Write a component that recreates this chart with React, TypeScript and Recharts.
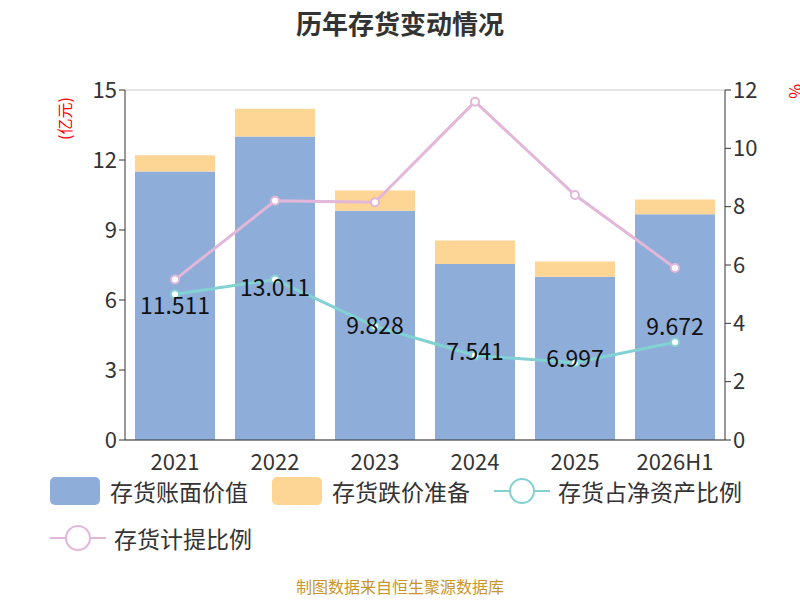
import React from 'react'
import { ComposedChart, Bar, Line, XAxis, YAxis, CartesianGrid, LabelList } from 'recharts'

const years = ['2021', '2022', '2023', '2024', '2025', '2026H1']
const bookValue = [11.511, 13.011, 9.828, 7.541, 6.997, 9.672]
const provision = [0.69, 1.19, 0.87, 1.01, 0.65, 0.63]
const netAssetRatio = [5.0, 5.5, 3.9, 2.9, 2.65, 3.35]
const provisionRatio = [5.5, 8.2, 8.15, 11.6, 8.4, 5.9]
const leftTicks = [0, 3, 6, 9, 12, 15]
const rightTicks = [0, 2, 4, 6, 8, 10, 12]

const data = years.map((year, i) => ({
  year,
  book: bookValue[i],
  prov: provision[i],
  netRatio: netAssetRatio[i],
  provRatio: provisionRatio[i],
}))

const BLUE = '#8eadd9'
const ORANGE = '#fdd595'
const TEAL = '#82d1d3'
const PINK = '#e2b7da'
const tick = { fontSize: 22, fill: '#333' }

const Swatch = ({ color }: { color: string }) => (
  <span style={{ display: 'inline-block', width: 50, height: 28, borderRadius: 5, background: color, marginRight: 10 }} />
)
const LineMark = ({ color }: { color: string }) => (
  <svg width={56} height={30} style={{ marginRight: 8 }}>
    <line x1={0} y1={15} x2={56} y2={15} stroke={color} strokeWidth={2} />
    <circle cx={28} cy={15} r={12} fill="#fff" stroke={color} strokeWidth={2} />
  </svg>
)

export default function App() {
  document.body.style.margin = '0'
  const item = { display: 'flex', alignItems: 'center', fontSize: 23, color: '#333', marginRight: 24 } as const
  return (
    <div style={{ position: 'relative', width: 800, height: 600, background: '#fff', fontFamily: '"Noto Sans CJK SC", "Noto Sans", sans-serif' }}>
      <div style={{ position: 'absolute', top: 4, width: 800, textAlign: 'center', fontSize: 26, fontWeight: 'bold', color: '#333' }}>历年存货变动情况</div>
      <div style={{ position: 'absolute', left: 52, top: 140, color: 'red', fontSize: 16, transform: 'rotate(-90deg)', transformOrigin: 'left top' }}>(亿元)</div>
      <div style={{ position: 'absolute', left: 808, top: 84, color: 'red', fontSize: 16, transform: 'rotate(90deg)', transformOrigin: 'left top' }}>%</div>
      <ComposedChart width={800} height={600} data={data} margin={{ top: 90, right: 0, left: 0, bottom: 130 }} barCategoryGap="10%">
        <CartesianGrid vertical={false} stroke="#ccc" />
        <XAxis dataKey="year" tick={{ ...tick, dy: 6 }} stroke="#333" height={30} tickLine={false} />
        <YAxis yAxisId="l" domain={[0, 15]} ticks={leftTicks} width={125} tick={tick} stroke="#333" />
        <YAxis yAxisId="r" orientation="right" domain={[0, 12]} ticks={rightTicks} width={75} tick={tick} stroke="#333" />
        <Bar yAxisId="l" dataKey="book" stackId="a" fill={BLUE} isAnimationActive={false}>
          <LabelList dataKey="book" position="center" style={{ fontSize: 23, fill: '#111' }} />
        </Bar>
        <Bar yAxisId="l" dataKey="prov" stackId="a" fill={ORANGE} isAnimationActive={false} />
        <Line yAxisId="r" dataKey="netRatio" stroke={TEAL} strokeWidth={3} dot={{ r: 4, fill: '#fff', stroke: TEAL, strokeWidth: 2 }} isAnimationActive={false} />
        <Line yAxisId="r" dataKey="provRatio" stroke={PINK} strokeWidth={3} dot={{ r: 4, fill: '#fff', stroke: PINK, strokeWidth: 2 }} isAnimationActive={false} />
      </ComposedChart>
      <div style={{ position: 'absolute', left: 50, top: 474, display: 'flex' }}>
        <div style={item}><Swatch color={BLUE} />存货账面价值</div>
        <div style={item}><Swatch color={ORANGE} />存货跌价准备</div>
        <div style={item}><LineMark color={TEAL} />存货占净资产比例</div>
      </div>
      <div style={{ position: 'absolute', left: 50, top: 521, display: 'flex' }}>
        <div style={item}><LineMark color={PINK} />存货计提比例</div>
      </div>
      <div style={{ position: 'absolute', top: 574, width: 800, textAlign: 'center', fontSize: 16, color: '#c8952a' }}>制图数据来自恒生聚源数据库</div>
    </div>
  )
}
